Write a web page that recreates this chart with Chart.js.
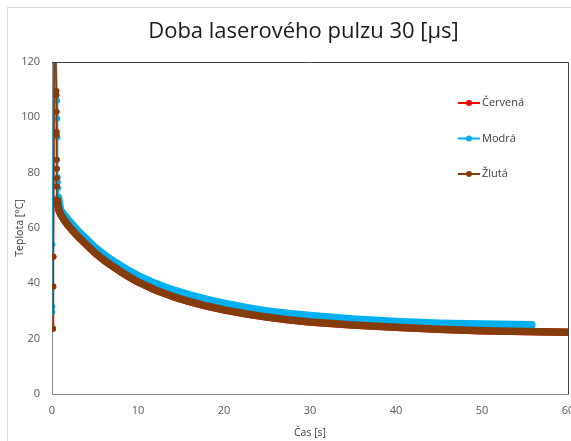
<!DOCTYPE html>
<html>
<head>
<meta charset="utf-8">
<script src="https://cdn.jsdelivr.net/npm/chart.js@4"></script>
<style>
html, body { margin: 0; padding: 0; background: #fff; overflow: hidden; }
#wrap { position: absolute; left: 0; top: 0; width: 607px; height: 441px; }
</style>
</head>
<body>
<div id="wrap"><canvas id="chart" width="607" height="441"></canvas></div>
<script>
// series names
const seriesNames = ['Červená', 'Modrá', 'Žlutá'];
const seriesColors = ['#ff0000', '#00b0f0', '#843c0c'];

// heating spike (markers, thin line)
const riseTimeCervena = [0.12, 0.15, 0.17, 0.3, 0.5, 0.51, 0.52, 0.53, 0.54, 0.55, 0.56, 0.57, 0.58];
const riseTempCervena = [23.6, 38.9, 49.6, 150, 109.5, 108, 102, 94.7, 93.5, 84.7, 81.4, 78, 75];
const riseTimeModra = [0.02, 0.03, 0.05, 0.3, 0.6, 0.62, 0.64, 0.66, 0.68, 0.7];
const riseTempModra = [29.6, 31.6, 54, 150, 106, 99.6, 92.8, 78.3, 76.5, 74.5];
const riseTimeZluta = [0.12, 0.15, 0.17, 0.3, 0.5, 0.51, 0.52, 0.53, 0.54, 0.55, 0.56, 0.57, 0.58];
const riseTempZluta = [23.6, 38.9, 49.6, 150, 109.5, 108, 102, 94.7, 93.5, 84.7, 81.4, 78, 75];

// cooling (dense samples, drawn as a thick band)
const coolTimeCervena = [0.6, 0.8, 1, 1.5, 2, 3, 4, 5, 6, 7, 8, 9, 10, 12, 14, 16, 18, 20, 22.5, 25, 27.5, 30, 35, 40, 45, 50, 55, 60];
const coolTempCervena = [70, 66.5, 65, 62.5, 60.5, 57, 54, 51, 48.5, 46.3, 44.2, 42.3, 40.5, 37.6, 35.3, 33.4, 31.8, 30.4, 29, 27.8, 26.8, 26, 24.9, 24.1, 23.4, 22.9, 22.6, 22.3];
const coolTimeModra = [0.75, 1, 1.5, 2, 3, 4, 5, 6, 7, 8, 9, 10, 12, 14, 16, 18, 20, 22.5, 25, 27.5, 30, 35, 40, 45, 50, 55.8];
const coolTempModra = [71, 66.5, 64.5, 62.5, 59, 56, 53, 50.5, 48.3, 46.4, 44.5, 42.8, 40, 37.7, 35.8, 34.2, 32.8, 31.3, 30, 29.1, 28.4, 27.1, 26.2, 25.6, 25.3, 25];
const coolTimeZluta = [0.6, 0.8, 1, 1.5, 2, 3, 4, 5, 6, 7, 8, 9, 10, 12, 14, 16, 18, 20, 22.5, 25, 27.5, 30, 35, 40, 45, 50, 55, 60];
const coolTempZluta = [70, 66.5, 65, 62.5, 60.5, 57, 54, 51, 48.5, 46.3, 44.2, 42.3, 40.5, 37.6, 35.3, 33.4, 31.8, 30.4, 29, 27.8, 26.8, 26, 24.9, 24.1, 23.4, 22.9, 22.6, 22.3];

const xTicks = [0, 10, 20, 30, 40, 50, 60];
const yTicks = [0, 20, 40, 60, 80, 100, 120];

function toPoints(ts, vs) {
    return ts.map((t, i) => ({ x: t, y: vs[i] }));
}

function makeSeries(idx, riseT, riseV, coolT, coolV) {
    const n = riseT.length;
    return {
        label: seriesNames[idx],
        data: toPoints(riseT, riseV).concat(toPoints(coolT, coolV)),
        borderColor: seriesColors[idx],
        backgroundColor: seriesColors[idx],
        pointBackgroundColor: seriesColors[idx],
        pointBorderWidth: 0,
        pointRadius: ctx => ctx.dataIndex < n ? 3 : 0,
        pointHoverRadius: 0,
        borderWidth: 7,
        borderJoinStyle: 'round',
        borderCapStyle: 'round',
        tension: 0,
        clip: 0,
        order: 3 - idx,
        segment: {
            borderWidth: ctx => ctx.p0DataIndex < n ? 1.5 : 7.5
        }
    };
}

const FONT = "'Open Sans', sans-serif";

const frame = {
    id: 'frame',
    beforeDraw(chart) {
        const c = chart.ctx;
        c.save();
        c.fillStyle = '#fff';
        c.fillRect(0, 0, chart.width, chart.height);
        c.strokeStyle = '#d9d9d9';
        c.lineWidth = 1;
        c.strokeRect(7.5, 7.5, 620, 500);
        c.restore();
    },
    afterDatasetsDraw(chart) {
        const a = chart.chartArea;
        const c = chart.ctx;
        c.save();
        c.strokeStyle = '#404040';
        c.lineWidth = 1;
        c.beginPath();
        c.moveTo(a.left, Math.round(a.top) + 0.5);
        c.lineTo(Math.round(a.right) + 0.5, Math.round(a.top) + 0.5);
        c.lineTo(Math.round(a.right) + 0.5, a.bottom);
        c.stroke();
        c.restore();
    },
    afterDraw(chart) {
        // legend like excel, inside plot on the right
        const a = chart.chartArea;
        const c = chart.ctx;
        c.save();
        c.font = '11px ' + FONT;
        c.textBaseline = 'middle';
        chart.data.datasets.forEach((ds, i) => {
            const y = a.top + 41 + i * 35.5;
            const x = a.right - 110;
            c.strokeStyle = ds.borderColor;
            c.lineWidth = 2;
            c.beginPath();
            c.moveTo(x, y);
            c.lineTo(x + 22, y);
            c.stroke();
            c.fillStyle = ds.borderColor;
            c.beginPath();
            c.arc(x + 11, y, 3, 0, Math.PI * 2);
            c.fill();
            c.fillStyle = '#404040';
            c.fillText(ds.label, x + 24, y);
        });
        c.restore();
    }
};

new Chart(document.getElementById('chart'), {
    type: 'line',
    data: {
        datasets: [
            makeSeries(0, riseTimeCervena, riseTempCervena, coolTimeCervena, coolTempCervena),
            makeSeries(1, riseTimeModra, riseTempModra, coolTimeModra, coolTempModra),
            makeSeries(2, riseTimeZluta, riseTempZluta, coolTimeZluta, coolTempZluta)
        ]
    },
    options: {
        responsive: false,
        animation: false,
        layout: { padding: 0 },
        plugins: {
            legend: { display: false },
            tooltip: { enabled: false },
            title: {
                display: true,
                text: 'Doba laserového pulzu 30 [µs]',
                color: '#1a1a1a',
                font: { family: FONT, size: 22, weight: 'normal' },
                padding: { top: 19, bottom: 16.6 }
            }
        },
        scales: {
            x: {
                type: 'linear',
                min: 0,
                max: 60,
                afterBuildTicks: s => { s.ticks = xTicks.map(v => ({ value: v })); },
                afterFit: s => { s.height = 47; },
                grid: { display: false, drawTicks: false },
                border: { color: '#8c8c8c', width: 1 },
                ticks: { color: '#595959', font: { family: FONT, size: 11 }, padding: 10, maxRotation: 0 },
                title: { display: true, text: 'Čas [s]', color: '#404040', font: { family: FONT, size: 10.5 }, padding: { top: 0, bottom: 2 } }
            },
            y: {
                type: 'linear',
                min: 0,
                max: 120,
                afterBuildTicks: s => { s.ticks = yTicks.map(v => ({ value: v })); },
                afterFit: s => { s.width = 52; },
                grid: { display: false, drawTicks: false },
                border: { color: '#8c8c8c', width: 1 },
                ticks: { color: '#595959', font: { family: FONT, size: 11 }, padding: 12 },
                title: { display: true, text: 'Teplota [°C]', color: '#404040', font: { family: FONT, size: 10.5 }, padding: { top: 14, bottom: 0 } }
            },
            side: {
                type: 'linear',
                position: 'right',
                display: true,
                afterFit: s => { s.width = 39; },
                grid: { display: false, drawTicks: false },
                border: { display: false },
                ticks: { display: false }
            }
        }
    },
    plugins: [frame]
});
</script>
</body>
</html>
